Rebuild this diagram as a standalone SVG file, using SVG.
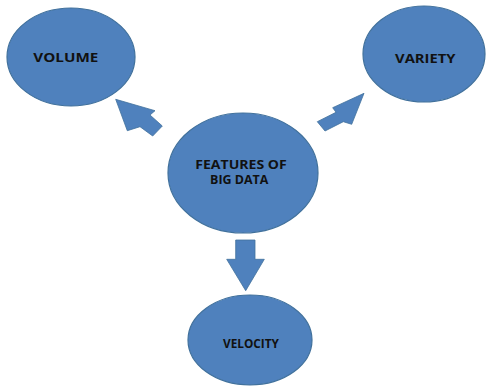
<svg xmlns="http://www.w3.org/2000/svg" width="487" height="391" viewBox="0 0 487 391">
  <style>
    .node { fill: #4f81bd; stroke: #41719c; stroke-width: 1.2; }
    .arrow { fill: #4f81bd; stroke: #41719c; stroke-width: 0.8; stroke-linejoin: miter; }
    .label { font-family: "Open Sans", "Liberation Sans", sans-serif; font-weight: bold; font-size: 11.5px; fill: #111111; text-anchor: middle; }
  </style>
  <rect width="487" height="391" fill="#ffffff"/>

  <g id="connectors">
    <!-- centre to VOLUME -->
    <polygon class="arrow" points="115.7,99.3 155,110.7 150,115 162.3,126 152.7,136 140,126.7 127.3,130.7"/>
    <!-- centre to VARIETY -->
    <polygon class="arrow" points="364,93.3 332.7,107.7 336,112.3 317.3,121.7 325,131 343.3,121.7 351.7,124.3"/>
    <!-- centre to VELOCITY -->
    <polygon class="arrow" points="235.7,240 255,240 255,259.3 264.3,259.3 245.7,290.7 226.7,259.3 235.7,259.3"/>
  </g>

  <g id="volume">
    <ellipse class="node" cx="71" cy="57" rx="64" ry="49"/>
    <text class="label" x="65.8" y="62.3" textLength="65" lengthAdjust="spacingAndGlyphs">VOLUME</text>
  </g>

  <g id="variety">
    <ellipse class="node" cx="424" cy="54" rx="61" ry="48"/>
    <text class="label" x="425.3" y="63.3" textLength="60.5" lengthAdjust="spacingAndGlyphs">VARIETY</text>
  </g>

  <g id="features">
    <ellipse class="node" cx="243" cy="173" rx="75" ry="60"/>
    <text class="label" x="241" y="169.3" textLength="91.5" lengthAdjust="spacingAndGlyphs">FEATURES OF</text>
    <text class="label" x="239.2" y="184.3" textLength="58.3" lengthAdjust="spacingAndGlyphs">BIG DATA</text>
  </g>

  <g id="velocity">
    <ellipse class="node" cx="250" cy="340" rx="62" ry="45"/>
    <text class="label" x="251" y="348.3" textLength="56" lengthAdjust="spacingAndGlyphs">VELOCITY</text>
  </g>
</svg>
